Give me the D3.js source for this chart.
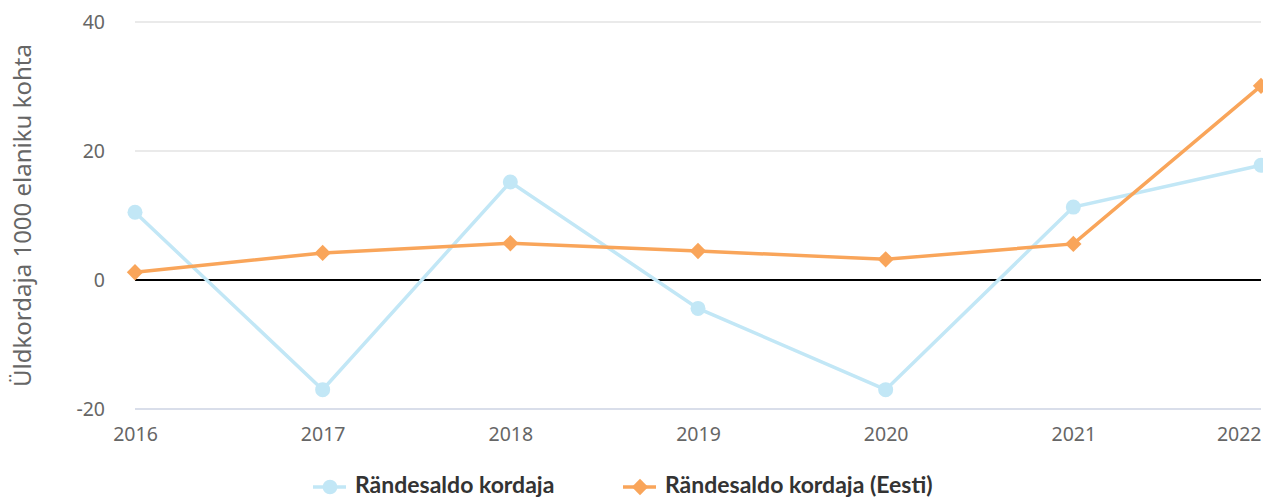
<!DOCTYPE html>
<html lang="et">
<head>
<meta charset="utf-8">
<title>Rändesaldo kordaja</title>
<script src="https://d3js.org/d3.v7.min.js"></script>
<style>
  body { margin: 0; background: #fff; }
</style>
</head>
<body>
<div id="chart"></div>
<script>
// data
var years = ["2016", "2017", "2018", "2019", "2020", "2021", "2022"];
var randesaldo = [10.5, -17, 15.2, -4.4, -17, 11.3, 17.8];
var randesaldoEesti = [1.2, 4.2, 5.7, 4.5, 3.2, 5.6, 30.1];
var yTicks = [-20, 0, 20, 40];
var seriesNames = ["Rändesaldo kordaja", "Rändesaldo kordaja (Eesti)"];
var colors = ["#c2e7f6", "#f9a55a"];

var W = 1263, H = 497;
var margin = {top: 22, right: 2, bottom: 88, left: 135};
var axisFont = "'Noto Sans', 'Open Sans', sans-serif";

var svg = d3.select("#chart").append("svg")
  .attr("width", W).attr("height", H);

var x = d3.scalePoint().domain(years).range([margin.left, W - margin.right]);
var y = d3.scaleLinear().domain([-20, 40]).range([H - margin.bottom, margin.top]);

// gridlines
svg.append("g").selectAll("line").data(yTicks).join("line")
  .attr("x1", margin.left).attr("x2", W - margin.right)
  .attr("y1", function(d) { return y(d); }).attr("y2", function(d) { return y(d); })
  .attr("stroke", function(d) { return d == -20 ? "#ccd3e3" : "#e3e3e3"; })
  .attr("stroke-width", 1.5);

// zero line
svg.append("line")
  .attr("x1", margin.left).attr("x2", W - margin.right)
  .attr("y1", y(0)).attr("y2", y(0))
  .attr("stroke", "#000").attr("stroke-width", 2);

// y axis
var yAxis = svg.append("g")
  .attr("transform", "translate(" + (margin.left - 30) + ",0)")
  .call(d3.axisLeft(y).tickValues(yTicks).tickSize(0).tickPadding(0)
    .tickFormat(function(d) { return String(d); }));
yAxis.select(".domain").remove();

// x axis
var xAxis = svg.append("g")
  .attr("transform", "translate(0," + (y(-20) + 6) + ")")
  .call(d3.axisBottom(x).tickSize(0).tickPadding(12));
xAxis.select(".domain").remove();
xAxis.selectAll(".tick text")
  .attr("text-anchor", function(d, i) { return i == years.length - 1 ? "end" : "middle"; });

svg.selectAll(".tick text")
  .style("font-family", axisFont)
  .style("font-size", "19.5px")
  .style("fill", "#666");

// y axis title
svg.append("text")
  .attr("transform", "translate(31," + ((margin.top + y(-20)) / 2) + ") rotate(-90)")
  .attr("text-anchor", "middle")
  .style("font-family", axisFont)
  .style("font-size", "24px")
  .style("fill", "#666")
  .text("Üldkordaja 1000 elaniku kohta");

var line = d3.line()
  .x(function(d, i) { return x(years[i]); })
  .y(function(d) { return y(d); });

var diamond = d3.symbol().type(d3.symbolDiamond2).size(170);

// blue series
svg.append("path").datum(randesaldo)
  .attr("d", line).attr("fill", "none")
  .attr("stroke", colors[0]).attr("stroke-width", 3.5);
svg.append("g").selectAll("circle").data(randesaldo).join("circle")
  .attr("cx", function(d, i) { return x(years[i]); })
  .attr("cy", function(d) { return y(d); })
  .attr("r", 7.5).attr("fill", colors[0]);

// orange series
svg.append("path").datum(randesaldoEesti)
  .attr("d", line).attr("fill", "none")
  .attr("stroke", colors[1]).attr("stroke-width", 3.5);
svg.append("g").selectAll("path").data(randesaldoEesti).join("path")
  .attr("transform", function(d, i) { return "translate(" + x(years[i]) + "," + y(d) + ")"; })
  .attr("d", diamond).attr("fill", colors[1]);

// legend
var legendX = [313, 623];
var legend = svg.append("g").selectAll("g").data(seriesNames).join("g")
  .attr("transform", function(d, i) { return "translate(" + legendX[i] + ",487)"; });
legend.append("line")
  .attr("x1", 0).attr("x2", 33)
  .attr("stroke", function(d, i) { return colors[i]; })
  .attr("stroke-width", 3.5);
legend.append("path")
  .attr("transform", "translate(17,0)")
  .attr("d", function(d, i) { return i == 0 ? d3.symbol().type(d3.symbolCircle).size(170)() : diamond(); })
  .attr("fill", function(d, i) { return colors[i]; });
legend.append("text")
  .attr("x", 42).attr("y", 6)
  .style("font-family", "Lato, sans-serif")
  .style("font-weight", "bold")
  .style("font-size", "23px")
  .style("fill", "#333")
  .text(function(d) { return d; });
</script>
</body>
</html>
